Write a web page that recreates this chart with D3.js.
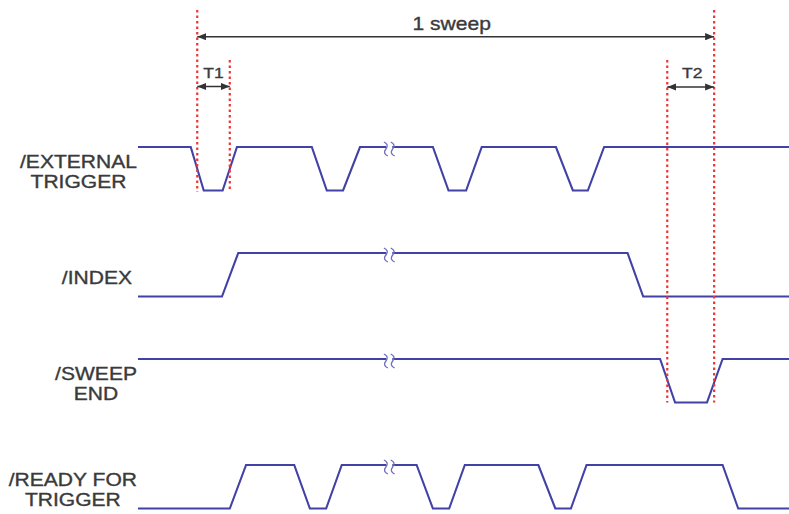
<!DOCTYPE html>
<html><head><meta charset="utf-8">
<script src="https://cdn.jsdelivr.net/npm/d3@7"></script>
<style>body{margin:0;background:#fff}svg{display:block}</style>
</head><body>
<svg id="c" width="789" height="514"></svg>
<script>
// ---- data (time in % of the drawn span) ----
const signals = ["/EXTERNAL\nTRIGGER", "/INDEX", "/SWEEP\nEND", "/READY FOR\nTRIGGER"];
const extTrigger = [[0,1],[8.1,1],[10.1,0],[13.0,0],[15.2,1],[26.7,1],[29.0,0],[31.5,0],[34.1,1],[45.3,1],[47.7,0],[50.4,0],[52.8,1],[64.2,1],[66.8,0],[69.1,0],[71.6,1],[100,1]];
const indexSig = [[0,0],[12.9,0],[15.4,1],[75.2,1],[77.6,0],[100,0]];
const sweepEnd = [[0,1],[80.2,1],[82.5,0],[87.4,0],[89.8,1],[100,1]];
const readyForTrigger = [[0,0],[14.1,0],[16.6,1],[24.0,1],[26.4,0],[28.9,0],[31.3,1],[42.8,1],[45.3,0],[47.8,0],[50.2,1],[61.5,1],[64.1,0],[66.5,0],[68.9,1],[89.8,1],[92.2,0],[100,0]];
const waves = [extTrigger, indexSig, sweepEnd, readyForTrigger];
const breakTime = 38.6;
const sweepSpan = [9.1, 88.5];
const t1Span = [9.1, 14.1];
const t2Span = [81.3, 88.5];
const spanLabels = ["1 sweep", "T1", "T2"];

// ---- scales ----
const svg = d3.select("#c");
const x = d3.scaleLinear([0, 100], [138, 789]);
const rowY = d3.scalePoint(signals, [190.5, 508.5]);
const amp = d3.scaleLinear([0, 1], [0, -43.5]);
const SX = 1.17;
const sigColor = "#4141a6", redColor = "#f03434", arrowColor = "#333", textColor = "#3a3a3a";

// arrow markers
const defs = svg.append("defs");
[["arrEnd", "auto"], ["arrStart", "auto-start-reverse"]].forEach(([id, orient]) => {
  defs.append("marker").attr("id", id).attr("viewBox", "0 0 10 8")
    .attr("refX", 10).attr("refY", 4).attr("markerWidth", 9).attr("markerHeight", 7.5)
    .attr("markerUnits", "userSpaceOnUse").attr("orient", orient)
    .append("path").attr("d", "M0,0L10,4L0,8Z").attr("fill", arrowColor);
});

function styleText(sel, size) {
  return sel.attr("font-family", "Liberation Sans, Arial, sans-serif")
    .attr("font-size", size).attr("fill", textColor)
    .attr("stroke", textColor).attr("stroke-width", 0.35)
    .attr("text-anchor", "middle");
}

// signal waveforms
const line = d3.line();
signals.forEach((s, i) => {
  const base = rowY(s);
  svg.append("path")
    .attr("d", line(waves[i].map(([t, v]) => [x(t), base + amp(v)])))
    .attr("fill", "none").attr("stroke", sigColor).attr("stroke-width", 2.1)
    .attr("stroke-linejoin", "miter");
  // break symbol
  const cx = x(breakTime), cy = base + amp(1);
  svg.append("rect").attr("x", cx - 3).attr("y", cy - 2).attr("width", 6).attr("height", 4).attr("fill", "#fff");
  [-3.4, 3.4].forEach(dx => {
    const px = cx + dx, py = cy + 2;
    svg.append("path")
      .attr("d", `M${px-2},${py-7} Q${px+3.5},${py-4.5} ${px},${py} Q${px-3.5},${py+4.5} ${px+2},${py+7}`)
      .attr("fill", "none").attr("stroke", "#6e6ec0").attr("stroke-width", 1.3);
  });
  // label
  const lines = s.split("\n");
  const high = base + amp(1);
  const g = svg.append("g");
  const texts = lines.map(ln => styleText(g.append("text").text(ln), 18));
  const maxW = d3.max(texts, t => t.node().getComputedTextLength()) * SX;
  const right = lines.length === 1 ? 132 : 137;
  const cxL = right - maxW / 2;
  texts.forEach((t, k) => {
    const by = lines.length === 1 ? high + 31 : high + 21 + k * 20;
    t.attr("transform", `translate(${cxL},${by}) scale(${SX},1)`);
  });
});

// red dotted reference lines
const topSweep = 10, topT = 60;
const refLines = [
  {t: sweepSpan[0], y1: topSweep, y2: rowY(signals[0]) + 1.5},
  {t: t1Span[1], y1: topT, y2: rowY(signals[0]) - 1},
  {t: t2Span[0], y1: topT, y2: rowY(signals[2])},
  {t: sweepSpan[1], y1: topSweep, y2: rowY(signals[2])}
];
svg.selectAll(".ref").data(refLines).join("line")
  .attr("x1", d => x(d.t)).attr("x2", d => x(d.t))
  .attr("y1", d => d.y1).attr("y2", d => d.y2)
  .attr("stroke", redColor).attr("stroke-width", 2.2).attr("stroke-dasharray", "2.5,3");

// dimension arrows
const spans = [
  {s: sweepSpan, y: 36.7, ty: 30, size: 18, label: spanLabels[0], dx: -4},
  {s: t1Span, y: 86.5, ty: 78, size: 15, label: spanLabels[1], dx: 0},
  {s: t2Span, y: 87, ty: 78, size: 15, label: spanLabels[2], dx: 1.5}
];
spans.forEach(d => {
  svg.append("line")
    .attr("x1", x(d.s[0])).attr("x2", x(d.s[1])).attr("y1", d.y).attr("y2", d.y)
    .attr("stroke", arrowColor).attr("stroke-width", 1.4)
    .attr("marker-start", "url(#arrStart)").attr("marker-end", "url(#arrEnd)");
  styleText(svg.append("text").text(d.label), d.size)
    .attr("transform", `translate(${(x(d.s[0]) + x(d.s[1])) / 2 + d.dx},${d.ty}) scale(${SX},1)`);
});
</script>
</body></html>
